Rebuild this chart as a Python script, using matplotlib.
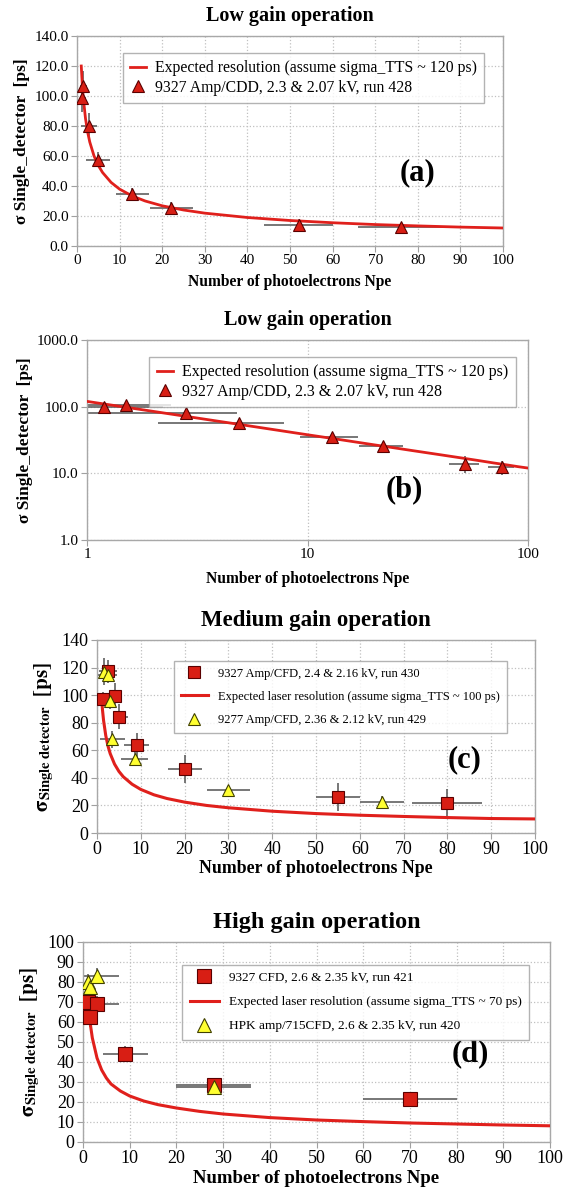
import matplotlib
matplotlib.use("Agg")
import matplotlib.pyplot as plt

plt.rcParams['font.family'] = ['Liberation Serif', 'DejaVu Serif']
plt.rcParams['mathtext.fontset'] = 'stix'

# ---------------- data ----------------
# Panels (a) and (b): low gain, run 428
low_npe = [1.2, 1.5, 2.8, 4.9, 12.9, 22.1, 52, 76]
low_sigma = [98.5, 106.5, 80, 57.5, 35, 25.5, 14, 12.5]
low_xlo = [0.8, 0.8, 1.0, 2.1, 9.2, 17.2, 44, 66]
low_xhi = [2.2, 2.4, 4.8, 7.8, 17, 27.2, 60, 86]
low_yerr = [9, 10, 9, 5, 4, 4, 4, 3]
low_curve_npe = [1, 1.25, 1.5, 2, 2.5, 3, 4, 5, 6, 8, 10, 13, 16, 20, 25, 30, 40, 50, 60, 70, 80, 90, 100]
low_curve_sigma = [120, 107.3, 98, 84.9, 75.9, 69.3, 60, 53.7, 49, 42.4, 37.9, 33.3, 30, 26.8, 24,
                   21.9, 19, 17, 15.5, 14.3, 13.4, 12.6, 12]

# Panel (c): medium gain
med_sq_npe = [1.4, 2.6, 4.1, 5.1, 9.1, 20, 55, 80]
med_sq_sigma = [97.5, 117.5, 99.5, 84.5, 63.5, 46.5, 26, 22]
med_sq_xlo = [0.5, 0.5, 2.5, 4.1, 6.2, 16.1, 50, 72]
med_sq_xhi = [2.3, 4.5, 5.8, 7.0, 11.8, 24, 60, 88]
med_sq_yerr = [5, 8, 9, 9, 9, 10, 10, 10]
med_tri_npe = [1.5, 2.5, 3.0, 3.5, 8.6, 30, 65]
med_tri_sigma = [117, 114.5, 96, 68, 53.5, 31, 22.5]
med_tri_xlo = [0.8, 0.3, 2.2, 0.6, 5.4, 25.2, 60]
med_tri_xhi = [2.2, 4.5, 3.8, 6.4, 11.6, 35, 70]
med_tri_yerr = [10, 6, 6, 6, 5, 3, 4]
med_curve_npe = [1.1, 1.25, 1.5, 2, 2.5, 3, 4, 5, 6, 8, 10, 13, 16, 20, 25, 30, 40, 50, 60, 70, 80, 90, 100]
med_curve_sigma = [95.3, 89.4, 81.6, 70.7, 63.2, 57.7, 50, 44.7, 40.8, 35.4, 31.6, 27.7, 25, 22.4, 20,
                   18.3, 15.8, 14.1, 12.9, 12, 11.2, 10.5, 10.2]

# Panel (d): high gain
high_sq_npe = [1.0, 2.9, 1.5, 8.9, 28, 70]
high_sq_sigma = [70, 69, 62.5, 44, 28.5, 21.5]
high_sq_xlo = [0.5, 0.0, 0.2, 4.3, 20, 60]
high_sq_xhi = [1.6, 7.8, 3.3, 14, 36, 80]
high_sq_yerr = [4, 4, 5, 4, 3, 3]
high_tri_npe = [1.0, 1.5, 2.9, 28]
high_tri_sigma = [80, 77.5, 83, 27.5]
high_tri_xlo = [0.6, 1.0, 0.0, 20]
high_tri_xhi = [1.4, 2.0, 7.8, 36]
high_tri_yerr = [4, 4, 4, 3]
high_curve_npe = [1.3, 1.5, 2, 3, 4, 5, 6, 8, 10, 13, 16, 20, 25, 30, 40, 50, 60, 70, 80, 90, 100]
high_curve_sigma = [62, 60, 52, 42, 36, 32, 29, 25.5, 23, 20.5, 18.7, 17, 15.3, 14, 12.2, 11,
                    10.2, 9.5, 9, 8.5, 8.1]

RED = '#e0201c'
MRED = '#d81e14'
YEL = '#ffff30'
ERRC = '#606060'
W, H = 563, 1198

fig = plt.figure(figsize=(W / 100, H / 100), dpi=100)


def add_ax(left, right, top, bottom):
    return fig.add_axes([left / W, 1 - bottom / H, (right - left) / W, (bottom - top) / H])


def style(ax, tsize):
    for s in ax.spines.values():
        s.set_color('#a8a8a8')
        s.set_linewidth(1.0)
    ax.grid(True, which='major', linestyle=':', color='#c0c0c0', linewidth=0.9)
    ax.set_axisbelow(True)
    ax.tick_params(length=4, color='#a0a0a0', labelsize=tsize, pad=2)


def draw_err(ax, x, y, lo, hi, ye):
    xe = [[xi - l for xi, l in zip(x, lo)], [h - xi for xi, h in zip(x, hi)]]
    ax.errorbar(x, y, xerr=xe, yerr=ye, fmt='none', ecolor=ERRC, elinewidth=1.2,
                capsize=0, zorder=2)


def legend(ax, anchor, fs, hl, lsp, htp=0.8, bp=0.55):
    leg = ax.legend(loc='upper right', bbox_to_anchor=anchor, fontsize=fs, frameon=True,
                    fancybox=False, edgecolor='#a0a0a0', handlelength=hl, borderpad=bp,
                    labelspacing=lsp, handletextpad=htp)
    leg.get_frame().set_linewidth(1.0)


# ---------- (a) ----------
ax = add_ax(77, 503, 36, 246)
style(ax, 11)
draw_err(ax, low_npe, low_sigma, low_xlo, low_xhi, low_yerr)
ax.plot(low_curve_npe, low_curve_sigma, color=RED, lw=2.0, zorder=3,
        label='Expected resolution (assume sigma_TTS ~ 120 ps)')
ax.plot(low_npe, low_sigma, '^', ms=9, color=MRED, mec='#5a0000', mew=0.8, zorder=4,
        label='9327 Amp/CDD, 2.3 & 2.07 kV, run 428')
ax.set_xlim(0, 100)
ax.set_ylim(0, 140)
ax.set_xticks(range(0, 101, 10))
ax.set_yticks(range(0, 141, 20))
ax.set_yticklabels([f'{v:.1f}' for v in range(0, 141, 20)])
ax.set_title('Low gain operation', fontsize=14.5, fontweight='bold', pad=11)
ax.set_xlabel('Number of photoelectrons Npe', fontsize=11.2, fontweight='bold', labelpad=5)
ax.set_ylabel('σ Single_detector  [ps]', fontsize=12.5, fontweight='bold', labelpad=3)
legend(ax, (0.974, 0.955), 11.3, 1.0, 0.22, htp=0.6, bp=0.45)
ax.text(0.80, 0.35, '(a)', transform=ax.transAxes, fontsize=22, fontweight='bold',
        ha='center', va='center')

# ---------- (b) ----------
ax = add_ax(87, 528, 340, 540)
style(ax, 11)
draw_err(ax, low_npe, low_sigma, low_xlo, low_xhi, low_yerr)
ax.plot(low_curve_npe, low_curve_sigma, color=RED, lw=2.0, zorder=3,
        label='Expected resolution (assume sigma_TTS ~ 120 ps)')
ax.plot(low_npe, low_sigma, '^', ms=9, color=MRED, mec='#5a0000', mew=0.8, zorder=4,
        label='9327 Amp/CDD, 2.3 & 2.07 kV, run 428')
ax.set_xscale('log')
ax.set_yscale('log')
ax.set_xlim(1, 100)
ax.set_ylim(1, 1000)
ax.set_xticks([1, 10, 100])
ax.set_xticklabels(['1', '10', '100'])
ax.set_yticks([1, 10, 100, 1000])
ax.set_yticklabels(['1.0', '10.0', '100.0', '1000.0'])
ax.minorticks_off()
ax.set_title('Low gain operation', fontsize=14.5, fontweight='bold', pad=11)
ax.set_xlabel('Number of photoelectrons Npe', fontsize=11.2, fontweight='bold', labelpad=7)
ax.set_ylabel('σ Single_detector  [ps]', fontsize=12.5, fontweight='bold', labelpad=3)
legend(ax, (0.99, 0.955), 11.5, 1.0, 0.22, htp=0.6, bp=0.45)
ax.text(0.72, 0.25, '(b)', transform=ax.transAxes, fontsize=22, fontweight='bold',
        ha='center', va='center')

# ---------- (c) ----------
ax = add_ax(97, 535, 640, 833)
style(ax, 13)
draw_err(ax, med_sq_npe, med_sq_sigma, med_sq_xlo, med_sq_xhi, med_sq_yerr)
draw_err(ax, med_tri_npe, med_tri_sigma, med_tri_xlo, med_tri_xhi, med_tri_yerr)
ax.plot(med_sq_npe, med_sq_sigma, 's', ms=9, color=MRED, mec='#5a0000', mew=0.8, zorder=4,
        label='9327 Amp/CFD, 2.4 & 2.16 kV, run 430')
ax.plot(med_curve_npe, med_curve_sigma, color=RED, lw=2.2, zorder=3,
        label='Expected laser resolution (assume sigma_TTS ~ 100 ps)')
ax.plot(med_tri_npe, med_tri_sigma, '^', ms=9, color=YEL, mec='#404000', mew=0.8, zorder=5,
        label='9277 Amp/CFD, 2.36 & 2.12 kV, run 429')
ax.set_xlim(0, 100)
ax.set_ylim(0, 140)
ax.set_xticks(range(0, 101, 10))
ax.set_yticks(range(0, 141, 20))
ax.set_title('Medium gain operation', fontsize=16.5, fontweight='bold', pad=10)
ax.set_xlabel('Number of photoelectrons Npe', fontsize=12.8, fontweight='bold', labelpad=1)
ax.set_ylabel(r'$\mathbf{\sigma}_{\mathbf{Single\ detector}}\ \ \mathbf{[ps]}$', fontsize=15,
              labelpad=4)
legend(ax, (0.95, 0.925), 9, 2.2, 0.9)
ax.text(0.84, 0.38, '(c)', transform=ax.transAxes, fontsize=22, fontweight='bold',
        ha='center', va='center')

# ---------- (d) ----------
ax = add_ax(83, 550, 942, 1142)
style(ax, 13)
draw_err(ax, high_sq_npe, high_sq_sigma, high_sq_xlo, high_sq_xhi, high_sq_yerr)
draw_err(ax, high_tri_npe, high_tri_sigma, high_tri_xlo, high_tri_xhi, high_tri_yerr)
ax.plot(high_sq_npe, high_sq_sigma, 's', ms=10, color=MRED, mec='#5a0000', mew=0.8, zorder=4,
        label='9327 CFD, 2.6 & 2.35 kV, run 421')
ax.plot(high_curve_npe, high_curve_sigma, color=RED, lw=2.2, zorder=3,
        label='Expected laser resolution (assume sigma_TTS ~ 70 ps)')
ax.plot(high_tri_npe, high_tri_sigma, '^', ms=10, color=YEL, mec='#404000', mew=0.8, zorder=5,
        label='HPK amp/715CFD, 2.6 & 2.35 kV, run 420')
ax.set_xlim(0, 100)
ax.set_ylim(0, 100)
ax.set_xticks(range(0, 101, 10))
ax.set_yticks(range(0, 101, 10))
ax.set_title('High gain operation', fontsize=17.5, fontweight='bold', pad=10)
ax.set_xlabel('Number of photoelectrons Npe', fontsize=13.5, fontweight='bold', labelpad=2)
ax.set_ylabel(r'$\mathbf{\sigma}_{\mathbf{Single\ detector}}\ \ \mathbf{[ps]}$', fontsize=15,
              labelpad=4)
legend(ax, (0.97, 0.92), 9.5, 2.2, 0.9)
ax.text(0.83, 0.44, '(d)', transform=ax.transAxes, fontsize=22, fontweight='bold',
        ha='center', va='center')

fig.savefig('out.png', dpi=100, facecolor='white')
